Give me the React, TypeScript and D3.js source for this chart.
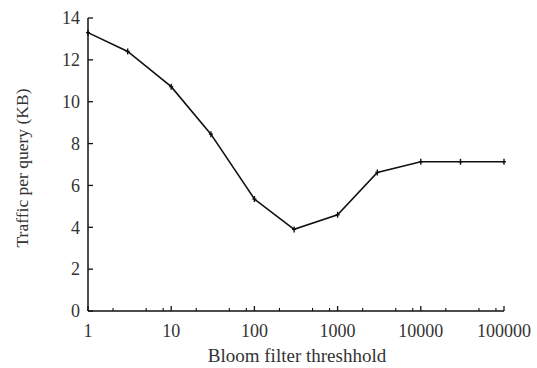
import React from "react";
import * as d3 from "d3";

const thresholds = [1, 3, 10, 30, 100, 300, 1000, 3000, 10000, 30000, 100000];
const traffic = [13.3, 12.4, 10.72, 8.45, 5.35, 3.9, 4.6, 6.62, 7.13, 7.13, 7.13];
const xTicks = [1, 10, 100, 1000, 10000, 100000];
const yTicks = [0, 2, 4, 6, 8, 10, 12, 14];
const minorSteps = [2, 5, 8];

const W = 537;
const H = 368;
const margin = { top: 18, right: 33, bottom: 57, left: 88 };

export default function App() {
    const innerW = W - margin.left - margin.right;
    const innerH = H - margin.top - margin.bottom;

    const x = d3.scaleLog().domain([1, 100000]).range([0, innerW]);
    const y = d3.scaleLinear().domain([0, 14]).range([innerH, 0]);

    const points = thresholds.map((t, i) => ({ t, v: traffic[i] }));
    const line = d3.line<{ t: number; v: number }>()
        .x(d => x(d.t))
        .y(d => y(d.v));

    // minor ticks inside each decade
    const minor = xTicks.slice(0, -1).flatMap(d => minorSteps.map(m => d * m));

    const font = "'Liberation Serif', 'Times New Roman', serif";
    const ink = "#111";

    return (
        <svg width={W} height={H} style={{ position: "absolute", left: 0, top: 0, background: "#fff" }}
            fontFamily={font}>
            <g transform={`translate(${margin.left},${margin.top})`}>
                {/* axes */}
                <line x1={0} x2={0} y1={0} y2={innerH} stroke={ink} strokeWidth={1.5} />
                <line x1={0} x2={innerW} y1={innerH} y2={innerH} stroke={ink} strokeWidth={1.5} />

                {yTicks.map(t => (
                    <g key={"y" + t} transform={`translate(0,${y(t)})`}>
                        <line x1={0} x2={5} stroke={ink} strokeWidth={1.3} />
                        <text x={-8} dy="0.35em" textAnchor="end" fontSize={18} fill="#333">{t}</text>
                    </g>
                ))}

                {xTicks.map(t => (
                    <g key={"x" + t} transform={`translate(${x(t)},${innerH})`}>
                        <line y1={0} y2={-5} stroke={ink} strokeWidth={1.3} />
                        <text y={26} textAnchor="middle" fontSize={18} fill="#333">{t}</text>
                    </g>
                ))}

                {minor.map(t => (
                    <line key={"m" + t} x1={x(t)} x2={x(t)} y1={innerH} y2={innerH - 3}
                        stroke={ink} strokeWidth={1.1} />
                ))}

                {/* data line */}
                <path d={line(points) ?? ""} fill="none" stroke={ink} strokeWidth={1.6} />
                {points.map(p => (
                    <g key={"p" + p.t} transform={`translate(${x(p.t)},${y(p.v)})`}>
                        <line y1={-3} y2={3} stroke={ink} strokeWidth={1.4} />
                        <line x1={-2} x2={2} stroke={ink} strokeWidth={1.4} />
                    </g>
                ))}
            </g>

            <text x={297} y={362} textAnchor="middle" fontSize={19} fill="#333">
                Bloom filter threshhold
            </text>
            <text transform="translate(28,168)rotate(-90)" textAnchor="middle"
                fontSize={17.5} fill="#333">
                Traffic per query (KB)
            </text>
        </svg>
    );
}
